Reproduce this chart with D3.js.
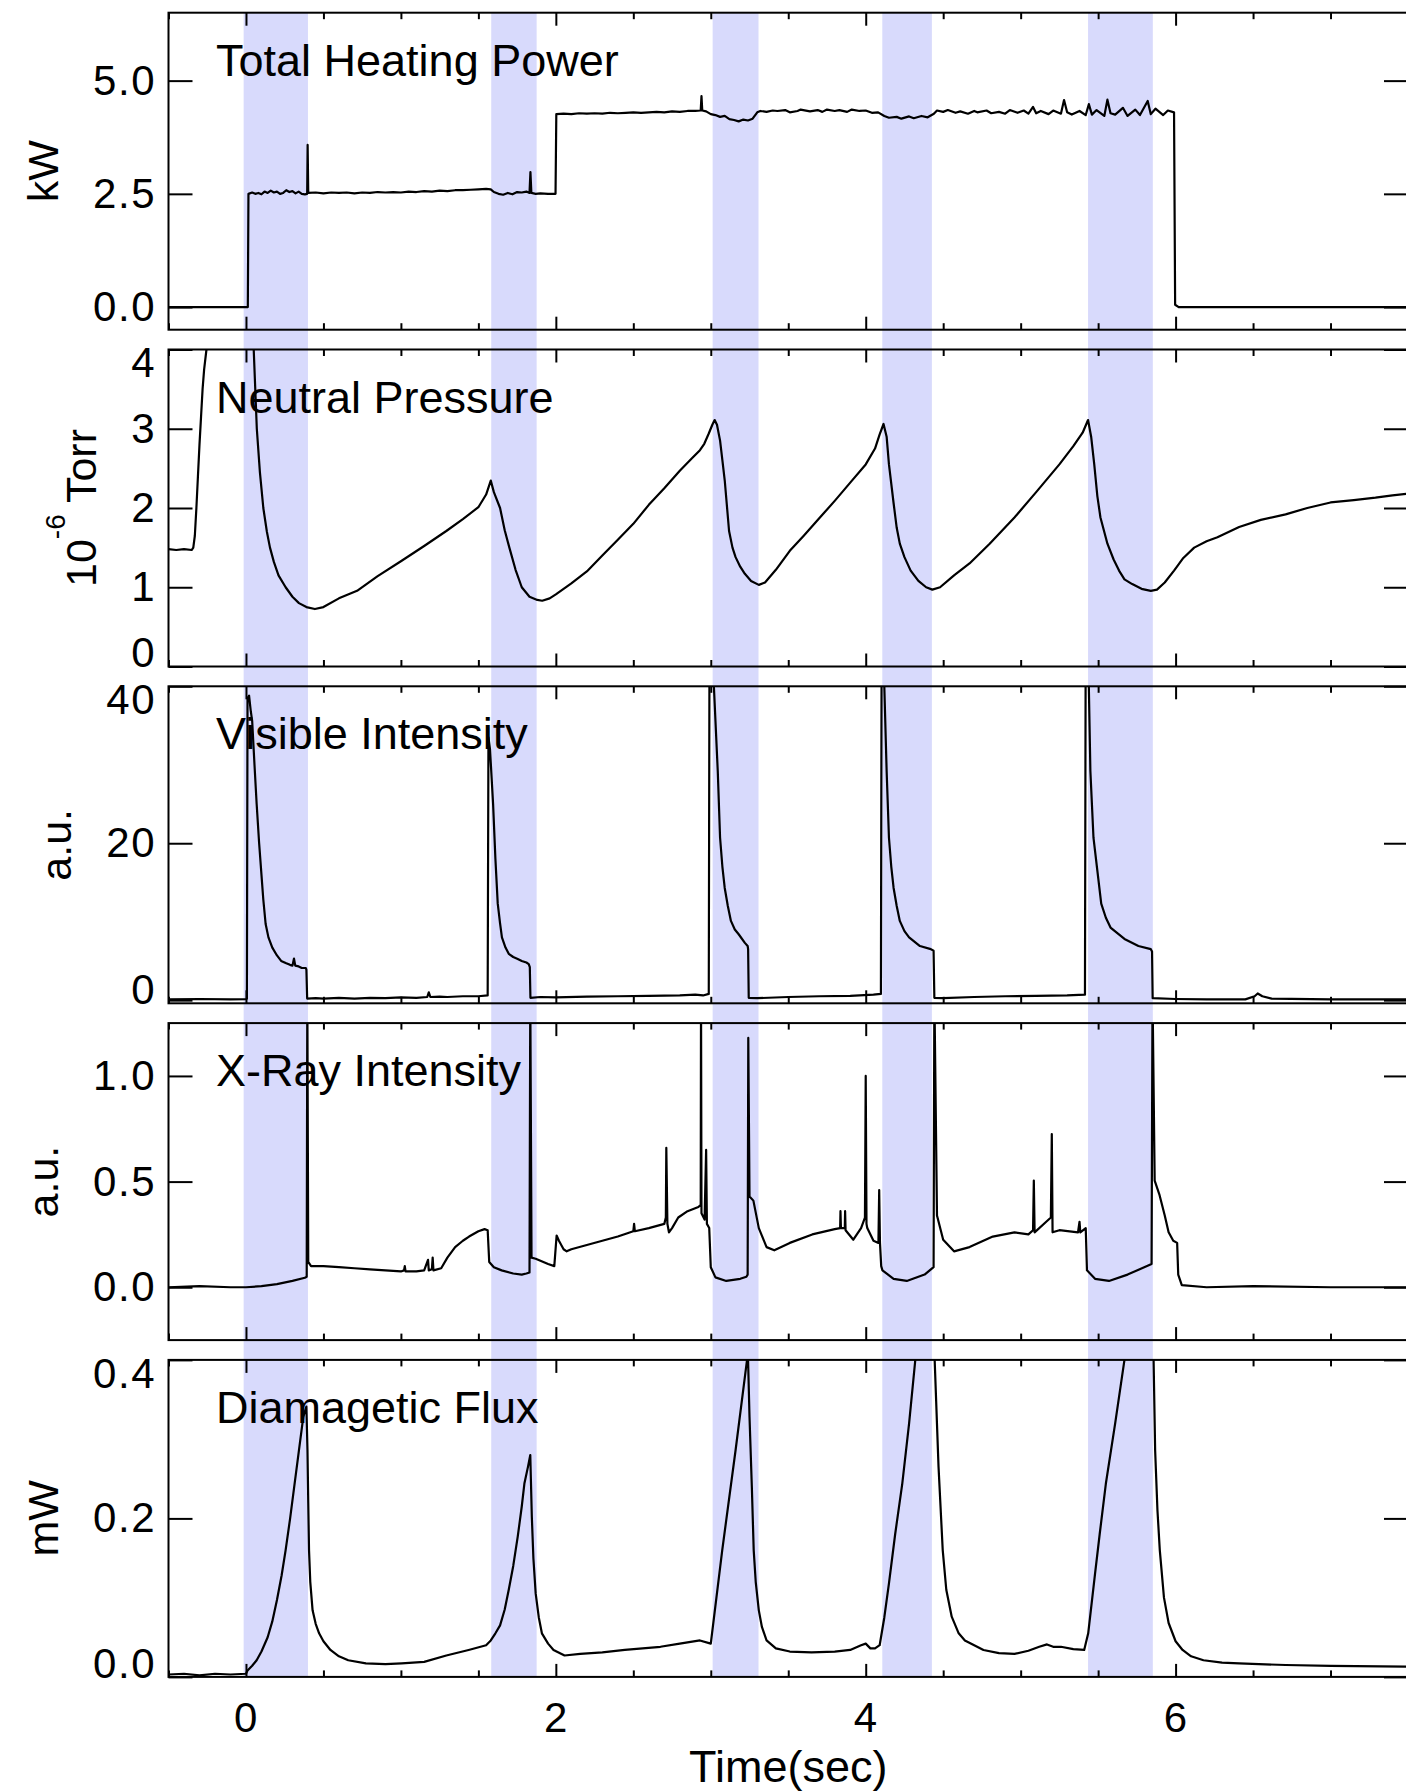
<!DOCTYPE html>
<html>
<head>
<meta charset="utf-8">
<script src="https://cdn.jsdelivr.net/npm/d3@7"></script>
<style>
  html, body { margin: 0; padding: 0; background: #ffffff; }
  svg { display: block; font-family: "Liberation Sans", Arial, Helvetica, sans-serif; }
</style>
</head>
<body>
<svg id="chart" width="1406" height="1791"></svg>
<script>
// ---- Time windows of the shaded intervals (sec) ----
const bandStarts = [-0.015, 1.583, 3.012, 4.107, 5.435];
const bandEnds   = [0.400, 1.876, 3.308, 4.427, 5.853];

// ---- Panel text ----
const panelTitles = ["Total Heating Power", "Neutral Pressure", "Visible Intensity", "X-Ray Intensity", "Diamagetic Flux"];
const yUnits = ["kW", "TORR", "a.u.", "a.u.", "mW"];
const yDomains = [[-0.5, 6.5], [0, 4], [-0.4, 40], [-0.25, 1.25], [0, 0.4]];
const yTickValues = [[0, 2.5, 5], [0, 1, 2, 3, 4], [0, 20, 40], [0, 0.5, 1], [0, 0.2, 0.4]];
const yTickFormats = [".1f", "d", "d", ".1f", ".1f"];
const timeMajorTicks = [0, 2, 4, 6];
const timeMinorTicks = [-0.5, 0.5, 1, 1.5, 2.5, 3, 3.5, 4.5, 5, 5.5, 6.5, 7, 7.5];

// ---- Total heating power (kW) ----
const powerData = [
  [-0.5,0.0],[0.0,0.0],[0.012,0.0],[0.016,2.5],[0.04,2.53],[0.06,2.5],[0.08,2.52],[0.1,2.49],[0.12,2.55],
  [0.14,2.52],[0.16,2.57],[0.18,2.53],[0.2,2.55],[0.22,2.5],[0.24,2.52],[0.26,2.58],[0.28,2.54],[0.3,2.56],
  [0.32,2.51],[0.34,2.55],[0.36,2.5],[0.38,2.49],[0.395,2.5],[0.398,3.58],[0.402,2.52],[0.45,2.53],[0.5,2.51],
  [0.55,2.53],[0.6,2.52],[0.65,2.53],[0.7,2.51],[0.75,2.53],[0.8,2.52],[0.85,2.54],[0.9,2.53],[0.95,2.54],
  [1.0,2.53],[1.05,2.55],[1.1,2.54],[1.15,2.56],[1.2,2.55],[1.25,2.57],[1.3,2.56],[1.35,2.58],[1.4,2.58],
  [1.45,2.59],[1.5,2.6],[1.55,2.61],[1.58,2.6],[1.6,2.54],[1.63,2.5],[1.66,2.48],[1.69,2.52],[1.72,2.49],
  [1.75,2.54],[1.78,2.53],[1.81,2.55],[1.83,2.52],[1.836,2.98],[1.842,2.52],[1.87,2.5],[1.9,2.51],[1.95,2.5],
  [1.998,2.5],[2.003,4.26],[2.05,4.27],[2.1,4.26],[2.15,4.28],[2.2,4.27],[2.25,4.28],[2.3,4.27],[2.35,4.29],
  [2.4,4.28],[2.45,4.29],[2.5,4.3],[2.55,4.29],[2.6,4.3],[2.65,4.31],[2.7,4.3],[2.75,4.32],[2.8,4.31],
  [2.85,4.33],[2.9,4.33],[2.935,4.34],[2.94,4.66],[2.945,4.34],[2.97,4.32],[3.0,4.26],[3.03,4.24],[3.06,4.2],
  [3.09,4.22],[3.12,4.15],[3.15,4.13],[3.18,4.1],[3.21,4.14],[3.24,4.12],[3.27,4.16],[3.3,4.3],[3.32,4.33],
  [3.36,4.31],[3.4,4.34],[3.43,4.33],[3.48,4.35],[3.51,4.3],[3.56,4.33],[3.58,4.36],[3.64,4.32],[3.69,4.35],
  [3.72,4.31],[3.75,4.36],[3.8,4.33],[3.83,4.35],[3.88,4.31],[3.91,4.36],[3.96,4.33],[4.0,4.34],[4.04,4.29],
  [4.08,4.3],[4.12,4.22],[4.15,4.18],[4.2,4.2],[4.23,4.16],[4.28,4.21],[4.31,4.17],[4.36,4.22],[4.4,4.19],
  [4.44,4.27],[4.46,4.34],[4.5,4.31],[4.53,4.35],[4.58,4.29],[4.61,4.32],[4.66,4.27],[4.7,4.33],[4.72,4.3],
  [4.78,4.34],[4.81,4.28],[4.86,4.31],[4.9,4.27],[4.93,4.35],[4.98,4.29],[5.02,4.34],[5.05,4.27],[5.08,4.42],
  [5.1,4.28],[5.13,4.33],[5.18,4.26],[5.21,4.34],[5.26,4.27],[5.28,4.57],[5.3,4.3],[5.33,4.25],[5.38,4.33],
  [5.42,4.24],[5.44,4.48],[5.46,4.25],[5.49,4.35],[5.54,4.22],[5.56,4.58],[5.58,4.28],[5.61,4.25],[5.66,4.4],
  [5.69,4.22],[5.74,4.36],[5.77,4.24],[5.82,4.55],[5.84,4.26],[5.87,4.38],[5.92,4.24],[5.95,4.34],[5.99,4.3],
  [5.997,0.05],[6.02,0.0],[7.5,0.0]
];

// ---- Neutral pressure (1e-6 Torr) ----
const pressureData = [
  [-0.5,1.48],[-0.45,1.47],[-0.4,1.48],[-0.35,1.47],[-0.34,1.5],[-0.33,1.65],[-0.32,2.0],[-0.31,2.4],
  [-0.3,2.8],[-0.29,3.15],[-0.28,3.5],[-0.27,3.75],[-0.255,4.0],[-0.24,4.3],[-0.2,4.8],[-0.1,5.3],[0.0,5.0],
  [0.03,4.4],[0.05,4.0],[0.07,3.0],[0.09,2.45],[0.112,2.0],[0.135,1.7],[0.155,1.5],[0.18,1.32],[0.21,1.15],
  [0.256,1.0],[0.3,0.88],[0.342,0.8],[0.39,0.75],[0.445,0.725],[0.5,0.75],[0.6,0.86],[0.717,0.955],
  [0.85,1.14],[1.005,1.335],[1.15,1.52],[1.293,1.71],[1.4,1.86],[1.5,2.01],[1.55,2.17],[1.58,2.345],
  [1.6,2.2],[1.64,2.0],[1.67,1.72],[1.7,1.5],[1.74,1.22],[1.78,1.0],[1.83,0.88],[1.88,0.84],[1.912,0.83],
  [1.96,0.86],[2.0,0.91],[2.1,1.05],[2.2,1.2],[2.3,1.4],[2.4,1.6],[2.5,1.8],[2.6,2.04],[2.7,2.25],
  [2.8,2.47],[2.88,2.63],[2.93,2.73],[2.958,2.81],[2.987,2.94],[3.01,3.05],[3.025,3.11],[3.04,3.05],
  [3.06,2.85],[3.075,2.6],[3.09,2.35],[3.118,1.71],[3.14,1.5],[3.16,1.38],[3.19,1.26],[3.22,1.17],
  [3.26,1.08],[3.31,1.03],[3.35,1.06],[3.42,1.22],[3.51,1.46],[3.6,1.65],[3.7,1.87],[3.8,2.09],[3.9,2.32],
  [4.0,2.55],[4.06,2.75],[4.09,2.93],[4.115,3.06],[4.135,2.9],[4.15,2.55],[4.18,2.06],[4.2,1.75],
  [4.22,1.55],[4.25,1.38],[4.29,1.21],[4.34,1.08],[4.39,1.0],[4.43,0.97],[4.48,1.0],[4.57,1.15],
  [4.67,1.3],[4.8,1.55],[4.96,1.88],[5.1,2.2],[5.25,2.55],[5.34,2.78],[5.4,2.95],[5.435,3.11],[5.455,2.9],
  [5.475,2.55],[5.495,2.15],[5.515,1.88],[5.56,1.55],[5.6,1.35],[5.635,1.21],[5.67,1.1],[5.72,1.04],
  [5.78,0.98],[5.84,0.955],[5.88,0.97],[5.93,1.06],[5.99,1.21],[6.05,1.37],[6.12,1.5],[6.2,1.58],
  [6.27,1.63],[6.41,1.76],[6.55,1.85],[6.71,1.92],[6.85,2.0],[7.0,2.07],[7.15,2.1],[7.29,2.13],
  [7.4,2.16],[7.5,2.18]
];

// ---- Visible intensity (a.u.) ----
const visibleData = [
  [-0.5,0.1],[-0.3,0.15],[-0.1,0.1],[0.0,0.12],[0.006,0.2],[0.01,38.5],[0.02,38.8],[0.03,37],[0.04,35.6],
  [0.055,30],[0.069,25],[0.085,20],[0.098,16.5],[0.112,12.8],[0.127,9.7],[0.145,8.0],[0.17,6.7],[0.2,5.7],
  [0.227,5.0],[0.26,4.7],[0.284,4.5],[0.3,4.4],[0.31,5.3],[0.318,4.4],[0.34,4.3],[0.36,4.1],[0.386,4.1],
  [0.39,3.9],[0.395,0.2],[0.45,0.25],[0.5,0.2],[0.6,0.3],[0.7,0.2],[0.8,0.3],[0.9,0.25],[1.0,0.35],
  [1.1,0.3],[1.17,0.4],[1.18,1.0],[1.19,0.4],[1.25,0.45],[1.3,0.4],[1.4,0.5],[1.5,0.5],[1.56,0.6],
  [1.565,33.5],[1.575,32],[1.595,25],[1.61,18],[1.625,12.3],[1.64,9.8],[1.652,8.0],[1.675,6.7],[1.696,5.9],
  [1.725,5.5],[1.754,5.25],[1.78,5.0],[1.81,4.8],[1.825,4.6],[1.832,4.2],[1.836,0.3],[1.9,0.4],[2.0,0.35],
  [2.2,0.45],[2.4,0.5],[2.6,0.55],[2.8,0.6],[2.9,0.7],[2.95,0.6],[2.987,0.8],[2.992,48],[3.02,40],
  [3.045,29.2],[3.06,20.7],[3.075,17],[3.09,14.3],[3.11,12],[3.13,10.1],[3.155,9.0],[3.18,8.4],[3.22,7.3],
  [3.238,6.9],[3.241,6.5],[3.245,0.3],[3.3,0.25],[3.5,0.4],[3.7,0.5],[3.9,0.55],[4.05,0.7],[4.098,0.8],
  [4.103,48],[4.12,40],[4.135,29.2],[4.15,20.7],[4.165,17],[4.18,14.3],[4.2,12],[4.22,10.1],[4.25,8.8],
  [4.28,8.0],[4.35,6.9],[4.42,6.5],[4.438,6.3],[4.443,0.3],[4.5,0.25],[4.7,0.4],[4.9,0.5],[5.1,0.55],
  [5.3,0.6],[5.415,0.7],[5.42,48],[5.44,40],[5.45,29.2],[5.47,20.7],[5.495,16.5],[5.52,12.3],[5.55,10.5],
  [5.58,9.25],[5.67,7.8],[5.76,6.9],[5.84,6.5],[5.848,6.2],[5.852,0.25],[6.0,0.15],[6.2,0.1],[6.45,0.1],
  [6.51,0.5],[6.53,0.85],[6.56,0.5],[6.62,0.2],[7.0,0.1],[7.5,0.1]
];

// ---- X-ray intensity (a.u.) ----
const xrayData = [
  [-0.5,0.0],[-0.3,0.005],[-0.1,0.0],[0.0,0.0],[0.1,0.005],[0.2,0.015],[0.3,0.03],[0.38,0.045],[0.392,0.05],
  [0.396,1.4],[0.402,0.12],[0.42,0.1],[0.5,0.1],[0.6,0.095],[0.7,0.09],[0.8,0.085],[0.9,0.08],[1.0,0.075],
  [1.02,0.08],[1.025,0.1],[1.03,0.075],[1.1,0.075],[1.15,0.08],[1.175,0.13],[1.18,0.08],[1.2,0.085],
  [1.205,0.14],[1.21,0.08],[1.26,0.09],[1.3,0.14],[1.35,0.19],[1.4,0.22],[1.44,0.24],[1.5,0.265],
  [1.54,0.275],[1.56,0.27],[1.57,0.12],[1.6,0.095],[1.65,0.08],[1.725,0.065],[1.78,0.06],[1.81,0.065],
  [1.83,0.07],[1.835,1.4],[1.843,0.14],[1.87,0.135],[1.95,0.11],[1.99,0.1],[2.005,0.245],[2.02,0.22],
  [2.05,0.18],[2.07,0.17],[2.1,0.18],[2.2,0.2],[2.3,0.22],[2.4,0.24],[2.5,0.265],[2.505,0.3],[2.51,0.265],
  [2.6,0.28],[2.7,0.3],[2.71,0.33],[2.713,0.66],[2.72,0.3],[2.73,0.26],[2.75,0.28],[2.79,0.33],
  [2.85,0.36],[2.92,0.38],[2.935,0.39],[2.937,1.4],[2.94,0.35],[2.96,0.32],[2.97,0.65],[2.975,0.3],
  [2.99,0.28],[3.0,0.095],[3.03,0.047],[3.1,0.03],[3.19,0.04],[3.23,0.05],[3.238,0.06],[3.242,1.18],
  [3.25,0.43],[3.275,0.41],[3.31,0.28],[3.36,0.19],[3.41,0.175],[3.51,0.21],[3.655,0.25],[3.8,0.275],
  [3.835,0.28],[3.837,0.36],[3.84,0.28],[3.865,0.28],[3.867,0.36],[3.87,0.27],[3.92,0.225],[3.97,0.28],
  [3.995,0.33],[4.0,1.0],[4.005,0.3],[4.01,0.28],[4.05,0.22],[4.082,0.21],[4.087,0.46],[4.092,0.21],
  [4.1,0.1],[4.108,0.08],[4.18,0.04],[4.265,0.03],[4.38,0.06],[4.438,0.095],[4.443,1.4],[4.46,0.34],
  [4.5,0.225],[4.57,0.17],[4.67,0.19],[4.82,0.24],[4.96,0.26],[5.05,0.25],[5.08,0.27],[5.085,0.505],
  [5.09,0.26],[5.165,0.31],[5.195,0.33],[5.201,0.725],[5.206,0.26],[5.25,0.27],[5.37,0.26],[5.38,0.31],
  [5.385,0.26],[5.42,0.28],[5.428,0.08],[5.48,0.04],[5.57,0.03],[5.69,0.06],[5.845,0.11],[5.851,1.4],
  [5.865,0.505],[5.895,0.44],[5.93,0.34],[5.955,0.26],[5.985,0.22],[6.01,0.21],[6.017,0.06],[6.04,0.01],
  [6.2,0.0],[6.5,0.005],[7.0,0.0],[7.5,0.0]
];

// ---- Diamagnetic flux (mW) ----
const fluxData = [
  [-0.5,0.003],[-0.4,0.004],[-0.3,0.002],[-0.2,0.004],[-0.1,0.003],[0.0,0.004],[0.01,0.008],[0.04,0.014],
  [0.069,0.021],[0.1,0.032],[0.14,0.05],[0.17,0.07],[0.2,0.097],[0.23,0.128],[0.256,0.16],[0.285,0.2],
  [0.314,0.244],[0.34,0.283],[0.37,0.328],[0.39,0.341],[0.397,0.286],[0.402,0.22],[0.407,0.16],
  [0.415,0.12],[0.43,0.084],[0.45,0.067],[0.472,0.055],[0.5,0.045],[0.545,0.034],[0.6,0.026],[0.66,0.021],
  [0.774,0.017],[0.9,0.016],[1.005,0.017],[1.15,0.019],[1.293,0.027],[1.437,0.034],[1.55,0.04],
  [1.58,0.046],[1.61,0.055],[1.64,0.065],[1.67,0.085],[1.696,0.11],[1.725,0.14],[1.754,0.177],
  [1.78,0.215],[1.797,0.244],[1.82,0.265],[1.835,0.28],[1.845,0.202],[1.855,0.15],[1.87,0.105],
  [1.89,0.075],[1.91,0.055],[1.95,0.042],[1.985,0.034],[2.056,0.027],[2.157,0.029],[2.3,0.031],
  [2.445,0.034],[2.675,0.038],[2.8,0.042],[2.93,0.046],[3.0,0.042],[3.074,0.16],[3.16,0.286],
  [3.234,0.4],[3.24,0.405],[3.25,0.328],[3.265,0.24],[3.277,0.16],[3.29,0.12],[3.31,0.084],[3.33,0.063],
  [3.36,0.046],[3.42,0.036],[3.51,0.032],[3.65,0.031],[3.8,0.032],[3.9,0.034],[3.97,0.04],[4.0,0.042],
  [4.03,0.036],[4.06,0.036],[4.09,0.04],[4.12,0.075],[4.15,0.118],[4.19,0.18],[4.236,0.244],[4.28,0.32],
  [4.32,0.4],[4.37,0.48],[4.425,0.56],[4.445,0.4],[4.47,0.265],[4.497,0.16],[4.52,0.11],[4.555,0.076],
  [4.6,0.055],[4.64,0.046],[4.76,0.034],[4.86,0.03],[4.96,0.029],[5.05,0.033],[5.12,0.038],[5.17,0.041],
  [5.21,0.038],[5.26,0.038],[5.34,0.035],[5.41,0.034],[5.436,0.055],[5.48,0.13],[5.51,0.18],[5.55,0.244],
  [5.61,0.32],[5.67,0.4],[5.76,0.5],[5.848,0.62],[5.858,0.4],[5.868,0.286],[5.883,0.21],[5.898,0.16],
  [5.925,0.1],[5.955,0.068],[6.0,0.045],[6.045,0.034],[6.1,0.026],[6.18,0.021],[6.3,0.018],[6.41,0.017],
  [6.71,0.015],[7.0,0.014],[7.5,0.013]
];

const seriesList = [powerData, pressureData, visibleData, xrayData, fluxData];

// ---- Layout ----
const svg = d3.select("#chart");
const plotLeft = 168.5, plotRight = 1408;
const panelTop0 = 12.7, panelStep = 336.8, panelH = 317;
const nPanels = seriesList.length;
const fontFamily = '"Liberation Sans", Arial, Helvetica, sans-serif';

const x = d3.scaleLinear().domain([-0.5, 7.5]).range([plotLeft, plotRight]);

const bandTop = panelTop0;
const bandBottom = panelTop0 + (nPanels - 1) * panelStep + panelH;

// Shaded intervals run through every panel
svg.append("g").selectAll("rect")
  .data(d3.zip(bandStarts, bandEnds))
  .join("rect")
  .attr("x", d => x(d[0]))
  .attr("width", d => x(d[1]) - x(d[0]))
  .attr("y", bandTop)
  .attr("height", bandBottom - bandTop)
  .attr("fill", "#d8dafc");

function styleAxis(g) {
  g.select(".domain").remove();
  g.selectAll(".tick line").attr("stroke", "#000").attr("stroke-width", 2);
  g.attr("font-family", null).attr("font-size", null);
  g.selectAll("text")
    .attr("fill", "#000")
    .style("font-family", fontFamily)
    .style("font-size", "42px")
    .style("letter-spacing", "1.5px");
}

seriesList.forEach((data, i) => {
  const top = panelTop0 + i * panelStep;
  const bottom = top + panelH;
  const y = d3.scaleLinear().domain(yDomains[i]).range([bottom, top]);
  const panel = svg.append("g").attr("class", "panel");

  const clipId = "clip-" + i;
  panel.append("clipPath").attr("id", clipId)
    .append("rect")
    .attr("x", plotLeft).attr("y", top)
    .attr("width", plotRight - plotLeft).attr("height", panelH);

  const line = d3.line().x(d => x(d[0])).y(d => y(d[1]));
  panel.append("path")
    .datum(data)
    .attr("clip-path", `url(#${clipId})`)
    .attr("d", line)
    .attr("fill", "none")
    .attr("stroke", "#000")
    .attr("stroke-width", 2.2)
    .attr("stroke-linejoin", "round");

  // Left axis with inward ticks
  const fmt = d3.format(yTickFormats[i]);
  const leftAxis = panel.append("g")
    .attr("transform", `translate(${plotLeft},0)`)
    .call(d3.axisLeft(y).tickValues(yTickValues[i]).tickFormat(fmt)
      .tickSizeInner(-24).tickSizeOuter(0).tickPadding(12.5));
  styleAxis(leftAxis);
  // keep the end labels inside the panel's vertical extent
  leftAxis.selectAll(".tick text").attr("y", function(d) {
    const ty = y(d);
    const c = Math.min(Math.max(ty, top + 14), bottom - 13);
    return c - ty;
  });

  // Right axis ticks, no labels
  const rightAxis = panel.append("g")
    .attr("transform", `translate(${plotRight},0)`)
    .call(d3.axisRight(y).tickValues(yTickValues[i]).tickFormat("")
      .tickSizeInner(-24).tickSizeOuter(0));
  styleAxis(rightAxis);

  // Time ticks on top and bottom edges
  const isLast = i === nPanels - 1;
  [["top", top], ["bottom", bottom]].forEach(([side, yy]) => {
    const mk = side === "top" ? d3.axisTop : d3.axisBottom;
    const major = panel.append("g")
      .attr("transform", `translate(0,${yy})`)
      .call(mk(x).tickValues(timeMajorTicks)
        .tickFormat(isLast && side === "bottom" ? d3.format("d") : "")
        .tickSizeInner(-13).tickSizeOuter(0).tickPadding(25));
    styleAxis(major);
    const minor = panel.append("g")
      .attr("transform", `translate(0,${yy})`)
      .call(mk(x).tickValues(timeMinorTicks).tickFormat("")
        .tickSizeInner(-6.5).tickSizeOuter(0));
    styleAxis(minor);
  });

  // Frame
  panel.append("rect")
    .attr("x", plotLeft).attr("y", top)
    .attr("width", plotRight - plotLeft).attr("height", panelH)
    .attr("fill", "none").attr("stroke", "#000").attr("stroke-width", 2);

  // Panel title
  panel.append("text")
    .attr("x", 216).attr("y", top + 63)
    .style("font-family", fontFamily).style("font-size", "45px")
    .attr("fill", "#000")
    .text(panelTitles[i]);

  // Y-axis title, placed just left of the widest tick label
  let minX = Infinity;
  leftAxis.selectAll(".tick text").each(function() {
    const b = this.getBBox();
    minX = Math.min(minX, plotLeft + b.x);
  });
  const tx = minX - 35;
  const ty = (top + bottom) / 2;
  const yt = panel.append("text")
    .attr("transform", `translate(${tx},${ty}) rotate(-90)`)
    .attr("text-anchor", "middle")
    .style("font-family", fontFamily).style("font-size", "43px")
    .attr("fill", "#000");
  if (yUnits[i] === "TORR") {
    yt.append("tspan").text("10");
    yt.append("tspan").attr("dy", -31).style("font-size", "28px").text("-6");
    yt.append("tspan").attr("dy", 31).text(" Torr");
  } else {
    yt.text(yUnits[i]);
  }
});

// Time axis title
svg.append("text")
  .attr("x", (plotLeft + plotRight) / 2)
  .attr("y", 1781.5)
  .attr("text-anchor", "middle")
  .style("font-family", fontFamily).style("font-size", "45px")
  .attr("fill", "#000")
  .text("Time(sec)");
</script>
</body>
</html>
